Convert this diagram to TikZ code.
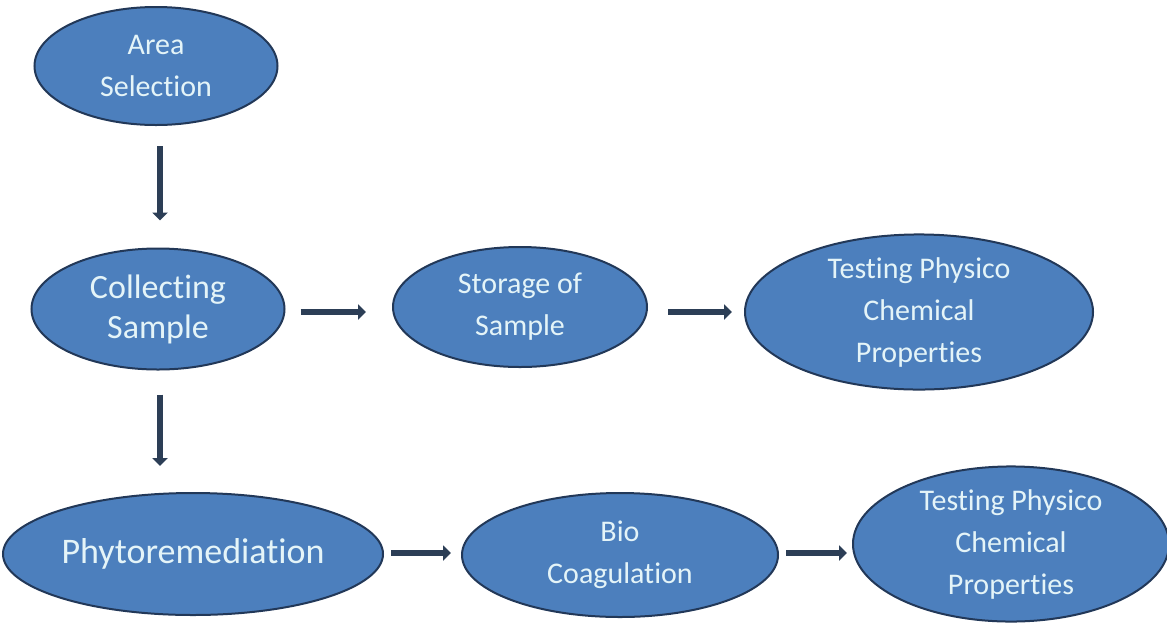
\documentclass[tikz,border=0pt]{standalone}
\usepackage{fontspec}
\setmainfont{Carlito}[Ligatures=NoCommon]
\usetikzlibrary{shapes.geometric,arrows.meta}
\definecolor{ellfill}{RGB}{76,127,189}
\definecolor{ellline}{RGB}{34,56,88}
\definecolor{elltext}{RGB}{228,244,248}
\definecolor{arrcol}{RGB}{44,62,86}
\begin{document}
\begin{tikzpicture}[x=1pt,y=-1pt,
  ell/.style={ellipse, draw=ellline, line width=2pt, fill=ellfill, text=elltext,
    inner sep=0pt, align=center, font=\fontsize{30}{42}\selectfont},
  bigtext/.style={font=\fontsize{34}{40}\selectfont},
  hugetext/.style={font=\fontsize{36}{42}\selectfont},
  arr/.style={draw=arrcol, line width=6.5pt, -{Triangle[length=8pt,width=15pt]}}]
\useasboundingbox[fill=white] (0,0) rectangle (1167,630);
\node[ell, minimum width=243pt, minimum height=118pt] (area) at (156,66) {Area\\Selection};
\node[ell, bigtext, minimum width=253pt, minimum height=121pt] (coll) at (158,309) {Collecting\\Sample};
\node[ell, minimum width=254pt, minimum height=120pt] (stor) at (520,307) {Storage of\\Sample};
\node[ell, minimum width=348pt, minimum height=155pt] (test1) at (919,312) {Testing Physico\\Chemical\\Properties};
\node[ell, hugetext, minimum width=380pt, minimum height=122pt] (phyto) at (193,554) {Phytoremediation};
\node[ell, minimum width=316pt, minimum height=124pt] (bio) at (620,555) {Bio\\Coagulation};
\node[ell, minimum width=316pt, minimum height=142pt] (test2) at (1011,544) {Testing Physico\\Chemical\\Properties};
% connectors
\draw[arr] ([xshift=4pt,yshift=-20pt]area.south) -- ([xshift=4pt,yshift=27pt]area.south |- coll.north);
\draw[arr] ([xshift=2pt,yshift=-24pt]coll.south) -- ([xshift=2pt,yshift=26pt]coll.south |- phyto.north);
\draw[arr] ([xshift=15pt,yshift=-3pt]coll.east) -- ([xshift=-26pt,yshift=-3pt]coll.east -| stor.west);
\draw[arr] ([xshift=20pt,yshift=-5pt]stor.east) -- ([xshift=-12pt,yshift=-5pt]stor.east -| test1.west);
\draw[arr] ([xshift=7pt,yshift=1pt]phyto.east) -- ([xshift=-10pt,yshift=1pt]phyto.east -| bio.west);
\draw[arr] ([xshift=7pt,yshift=2pt]bio.east) -- ([xshift=-5pt,yshift=2pt]bio.east -| test2.west);
\end{tikzpicture}
\end{document}
